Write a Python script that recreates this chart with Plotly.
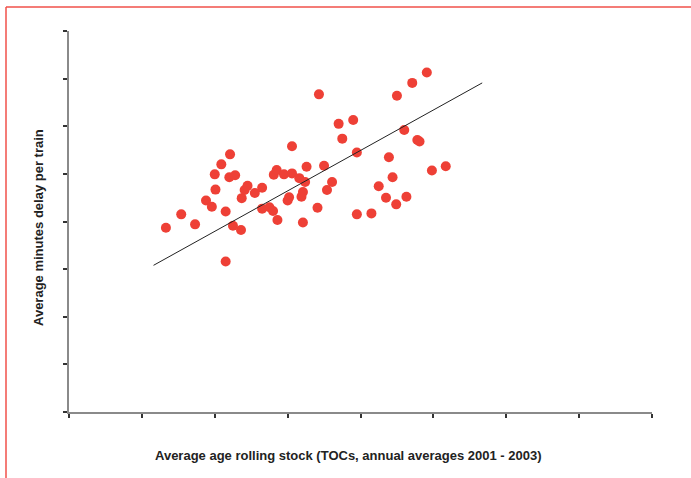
import plotly.graph_objects as go

# Data (axis units = tick intervals; chart has no tick labels)
age_x = [1.33, 1.54, 1.73, 1.88, 1.96, 2.00, 2.01, 2.09, 2.15, 2.15,
         2.20, 2.21, 2.28, 2.25, 2.36, 2.37, 2.41, 2.45, 2.55, 2.65,
         2.65, 2.75, 2.80, 2.81, 2.85, 2.86, 2.95, 3.00, 3.02, 3.06,
         3.06, 3.16, 3.19, 3.21, 3.21, 3.24, 3.26, 3.43, 3.41, 3.50,
         3.54, 3.61, 3.70, 3.75, 3.90, 3.95, 3.95, 4.15, 4.25, 4.35,
         4.39, 4.44, 4.49, 4.50, 4.60, 4.63, 4.71, 4.78, 4.81, 4.91,
         4.98, 5.17]
delay_y = [3.87, 4.15, 3.94, 4.44, 4.31, 4.99, 4.67, 5.20, 4.21, 3.16,
           4.93, 5.41, 4.97, 3.91, 3.82, 4.49, 4.66, 4.75, 4.60, 4.71,
           4.27, 4.30, 4.22, 4.98, 5.08, 4.03, 4.99, 4.44, 4.51, 5.58,
           5.01, 4.91, 4.52, 4.62, 3.98, 4.83, 5.15, 6.67, 4.29, 5.17,
           4.66, 4.83, 6.05, 5.74, 6.13, 5.45, 4.15, 4.17, 4.74, 4.50,
           5.35, 4.93, 4.36, 6.64, 5.92, 4.52, 6.91, 5.71, 5.68, 7.13,
           5.07, 5.16]
trend_x = [1.16, 5.67]
trend_y = [3.08, 6.91]

x_title = "Average age rolling stock (TOCs, annual averages 2001 - 2003)"
y_title = "Average minutes delay per train"

fig = go.Figure()
fig.add_trace(go.Scatter(x=age_x, y=delay_y, mode="markers",
                         marker=dict(color="#ee4036", size=10, line=dict(width=0)),
                         showlegend=False, hoverinfo="skip"))
fig.add_trace(go.Scatter(x=trend_x, y=trend_y, mode="lines",
                         line=dict(color="#222222", width=1),
                         showlegend=False, hoverinfo="skip"))

axis_common = dict(range=[0, 8], dtick=1, tick0=0, showgrid=False, zeroline=False,
                   showline=True, linecolor="#8a8a8a", linewidth=2,
                   ticks="outside", ticklen=4, tickwidth=1.5, tickcolor="#333333",
                   showticklabels=False, fixedrange=True)

fig.update_layout(
    width=691, height=478,
    margin=dict(l=69, r=39, t=31, b=66),
    paper_bgcolor="white", plot_bgcolor="white",
    xaxis=axis_common, yaxis=axis_common,
    font=dict(family="Liberation Sans, Arial, sans-serif", color="#222222"),
    annotations=[
        dict(text="<b>" + x_title + "</b>", xref="paper", yref="paper",
             x=(348.5 - 69) / 583, y=(412 - 455) / 381, xanchor="center", yanchor="middle",
             showarrow=False, font=dict(size=13)),
        dict(text="<b>" + y_title + "</b>", xref="paper", yref="paper",
             x=(38 - 69) / 583, y=(412 - 228) / 381, xanchor="center", yanchor="middle",
             textangle=-90, showarrow=False, font=dict(size=13)),
    ],
    shapes=[
        dict(type="line", xref="paper", yref="paper",
             x0=(6 - 69) / 583, x1=(700 - 69) / 583, y0=(412 - 7) / 381, y1=(412 - 7) / 381,
             line=dict(color="#f0504a", width=1.5)),
        dict(type="line", xref="paper", yref="paper",
             x0=(6 - 69) / 583, x1=(6 - 69) / 583, y0=(412 - 7) / 381, y1=(412 - 490) / 381,
             line=dict(color="#f0504a", width=1.5)),
    ],
)

fig.write_html("out.html")
